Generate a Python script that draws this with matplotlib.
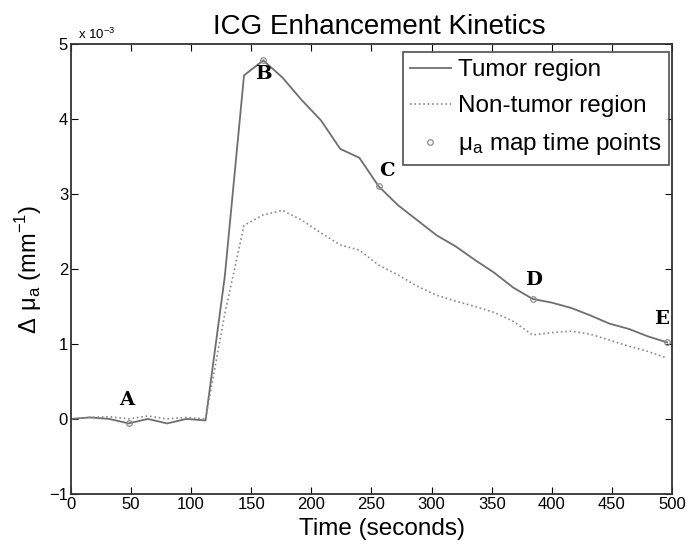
import numpy as np
import matplotlib.pyplot as plt

plt.rcParams['font.family'] = ['Liberation Sans', 'DejaVu Sans']

# Time samples (seconds)
time = [0, 16, 32, 48, 64, 80, 96, 112, 128, 144, 160, 176, 192, 208, 224, 240,
        256, 272, 288, 304, 320, 336, 352, 368, 384, 400, 416, 432, 448, 464, 480, 496]
# Delta mu_a (x 1e-3 mm^-1)
tumor = [0.0, 0.02, 0.0, -0.06, 0.0, -0.06, 0.0, -0.02, 1.9, 4.58, 4.78, 4.55, 4.25, 3.98, 3.6, 3.48,
         3.1, 2.85, 2.65, 2.45, 2.3, 2.12, 1.95, 1.75, 1.6, 1.55, 1.48, 1.38, 1.27, 1.2, 1.1, 1.02]
nontumor = [0.0, 0.02, 0.03, 0.0, 0.04, 0.0, 0.02, 0.0, 1.4, 2.58, 2.72, 2.78, 2.65, 2.48, 2.32, 2.25,
            2.05, 1.92, 1.77, 1.65, 1.57, 1.5, 1.42, 1.3, 1.12, 1.15, 1.17, 1.13, 1.05, 0.97, 0.9, 0.81]

# mu_a map time points
map_t = [48, 160, 256, 384, 496]
map_labels = ['A', 'B', 'C', 'D', 'E']
label_pos = [(46, 0.25), (160, 4.6), (263, 3.3), (385, 1.85), (491, 1.33)]

fig = plt.figure(figsize=(6.95, 5.55), dpi=100)
ax = fig.add_axes([0.102, 0.110, 0.865, 0.811])

ax.plot(time, tumor, '-', color='#6e6e6e', lw=1.3, label='Tumor region')
ax.plot(time, nontumor, ':', color='#8a8a8a', lw=1.2, label='Non-tumor region')
map_v = [tumor[time.index(t)] for t in map_t]
ax.plot(map_t, map_v, 'o', ms=4, mfc='none', mec='#8a8a8a', mew=0.9,
        label=r'$\mathregular{\mu_a}$ map time points')

for lab, (x, y) in zip(map_labels, label_pos):
    ax.text(x, y, lab, family=['DejaVu Serif'], fontweight='bold',
            fontsize=14, ha='center', va='center')

ax.set_xlim(0, 500)
ax.set_ylim(-1, 5)
ax.set_xticks(np.arange(0, 501, 50))
ax.set_yticks(np.arange(-1, 6, 1))
ax.tick_params(direction='in', top=True, right=True, labelsize=12, length=5, pad=2)
for s in ax.spines.values():
    s.set_linewidth(1.3)
    s.set_color('#333333')

ax.text(0.012, 1.003, r'x 10$^{\mathregular{-3}}$', transform=ax.transAxes, fontsize=9.5,
        va='bottom', ha='left')

ax.set_title('ICG Enhancement Kinetics', fontsize=20, pad=7, x=0.513)
ax.set_xlabel('Time (seconds)', fontsize=17.5)
ax.xaxis.set_label_coords(0.517, -0.053, transform=ax.transAxes)
ax.xaxis.label.set_va('top')
ax.set_ylabel(r'$\mathregular{\Delta\ \mu_a}$ (mm$^{\mathregular{-1}}$)', fontsize=17, labelpad=4)

leg = ax.legend(loc='upper right', bbox_to_anchor=(0.995, 0.982), fontsize=17.5, frameon=True,
                fancybox=False, borderpad=0.3, handlelength=1.7, handletextpad=0.3,
                labelspacing=0.58, borderaxespad=0)
leg.get_frame().set_edgecolor('#222222')
leg.get_frame().set_linewidth(1.2)

plt.savefig('out.png', dpi=100)
